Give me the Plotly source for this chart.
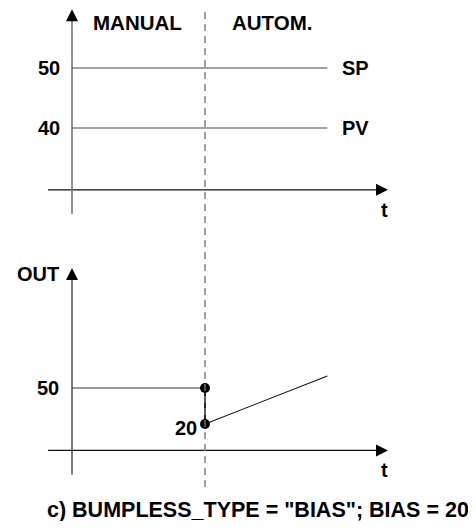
import plotly.graph_objects as go

# ---- data ----
T_LINE = [0, 9.6]            # time span of SP / PV traces
SP = [50, 50]
PV = [40, 40]
T_SWITCH = 5                 # manual -> automatic switch time
T_MANUAL = [0, 5]
OUT_MANUAL = [50, 50]
T_JUMP = [5, 5]
OUT_JUMP = [50, 20]
T_AUTO = [5, 9.6]
OUT_AUTO = [20, 60]
TOP_TICKS = [50, 40]
BOTTOM_TICKS = [50]
CAPTION = 'c) BUMPLESS_TYPE = "BIAS"; BIAS = 20'

# ---- geometry (page pixels of the 476x529 window; page body has 8px margin) ----
OFF = 8
W, H = 476 - 2 * OFF, 529 - 2 * OFF
X0_PX, PX_PER_T = 72, 26.6
TOP_REF_PX, TOP_PX_PER_UNIT = 68, 6.0      # value 50 at y=68 px
BOT_ZERO_PX, BOT_PX_PER_UNIT = 448, 1.2    # value 0 at y=448 px

x0c = X0_PX - OFF
x_range = [-x0c / PX_PER_T, (W - x0c) / PX_PER_T]
trc = TOP_REF_PX - OFF
top_range = [50 - (H - trc) / TOP_PX_PER_UNIT, 50 + trc / TOP_PX_PER_UNIT]
bzc = BOT_ZERO_PX - OFF
bot_range = [-(H - bzc) / BOT_PX_PER_UNIT, bzc / BOT_PX_PER_UNIT]

def px_x(p):
    return (p - OFF) / W

def px_y(p):
    return 1 - (p - OFF) / H

H_AX_COLOR = "#111111"
V_AX_COLOR = "#777777"
FONT = "Liberation Sans, Arial, Helvetica, sans-serif"
FS = 20

# axis extents in data units
T_AX_LEFT, T_AX_TIP = -0.9, 11.88
TOP_AX_Y, TOP_V_BOT, TOP_V_TIP = 29.7, 25.7, 59.8
BOT_AX_Y, BOT_V_BOT, BOT_V_TIP = -2, -22, 150

fig = go.Figure()

def line(x, y, axis, color, width):
    fig.add_trace(go.Scatter(x=x, y=y, mode="lines", yaxis=axis,
                             line=dict(color=color, width=width),
                             hoverinfo="skip", showlegend=False))

def arrow(x, y, sym, axis):
    fig.add_trace(go.Scatter(x=[x], y=[y], mode="markers", yaxis=axis,
                             marker=dict(symbol=sym, size=12, color="black",
                                         line=dict(width=0)),
                             hoverinfo="skip", showlegend=False))

# ---- top panel ----
line([T_AX_LEFT, T_AX_TIP - 0.3], [TOP_AX_Y, TOP_AX_Y], "y", H_AX_COLOR, 1.2)
line([0, 0], [TOP_V_BOT, TOP_V_TIP - 1.5], "y", V_AX_COLOR, 1.6)
arrow(T_AX_TIP, TOP_AX_Y, "arrow-right", "y")
arrow(0, TOP_V_TIP, "arrow-up", "y")
line(T_LINE, SP, "y", "#444444", 1.1)
line(T_LINE, PV, "y", "#444444", 1.1)

# ---- bottom panel ----
line([T_AX_LEFT, T_AX_TIP - 0.3], [BOT_AX_Y, BOT_AX_Y], "y2", H_AX_COLOR, 1.2)
line([0, 0], [BOT_V_BOT, BOT_V_TIP - 8], "y2", "#222222", 1.2)
arrow(T_AX_TIP, BOT_AX_Y, "arrow-right", "y2")
arrow(0, BOT_V_TIP, "arrow-up", "y2")
line(T_MANUAL, OUT_MANUAL, "y2", "#333333", 1.1)
line(T_JUMP, OUT_JUMP, "y2", "#222222", 2)
line(T_AUTO, OUT_AUTO, "y2", "#111111", 1.1)
fig.add_trace(go.Scatter(x=T_JUMP, y=OUT_JUMP, mode="markers", yaxis="y2",
                         marker=dict(symbol="circle", size=10, color="black"),
                         hoverinfo="skip", showlegend=False))

# ---- dashed switch line ----
fig.add_shape(type="line", xref="x", yref="paper", x0=T_SWITCH, x1=T_SWITCH,
              y0=px_y(487), y1=px_y(8),
              line=dict(color="#7a7a7a", width=1.4, dash="7px,5px"))

# ---- texts ----
def txt(text, x, y, xref, yref, xanchor="center", xshift=0, yshift=0, size=FS):
    fig.add_annotation(text="<b>%s</b>" % text, x=x, y=y, xref=xref, yref=yref,
                       xanchor=xanchor, yanchor="middle", showarrow=False,
                       xshift=xshift, yshift=yshift,
                       font=dict(family=FONT, size=size, color="black"))

txt("MANUAL", px_x(137.5), px_y(22), "paper", "paper", size=20.5)
txt("AUTOM.", px_x(271.5), px_y(22), "paper", "paper", size=20.5)
for v in TOP_TICKS:
    txt(str(v), 0, v, "x", "y", xanchor="right", xshift=-10)
txt("SP", T_LINE[-1], SP[-1], "x", "y", xanchor="left", xshift=13)
txt("PV", T_LINE[-1], PV[-1], "x", "y", xanchor="left", xshift=13)
txt("t", px_x(384), px_y(210), "paper", "paper")

txt("OUT", px_x(15), px_y(274), "paper", "paper", xanchor="left")
for v in BOTTOM_TICKS:
    txt(str(v), 0, v, "x", "y2", xanchor="right", xshift=-11)
txt(str(OUT_JUMP[-1]), T_SWITCH, OUT_JUMP[-1], "x", "y2", xanchor="right",
    xshift=-6, yshift=-4)
txt("t", px_x(384), px_y(470), "paper", "paper")

txt(CAPTION, px_x(257.5), px_y(510), "paper", "paper", size=21.5)

hidden = dict(visible=False, fixedrange=True)
fig.update_layout(
    width=W, height=H,
    margin=dict(l=0, r=0, t=0, b=0),
    paper_bgcolor="white", plot_bgcolor="white",
    xaxis=dict(range=x_range, domain=[0, 1], **hidden),
    yaxis=dict(range=top_range, domain=[0, 1], **hidden),
    yaxis2=dict(range=bot_range, domain=[0, 1], overlaying="y", anchor="x", **hidden),
    showlegend=False,
)

fig.write_html("out.html")
